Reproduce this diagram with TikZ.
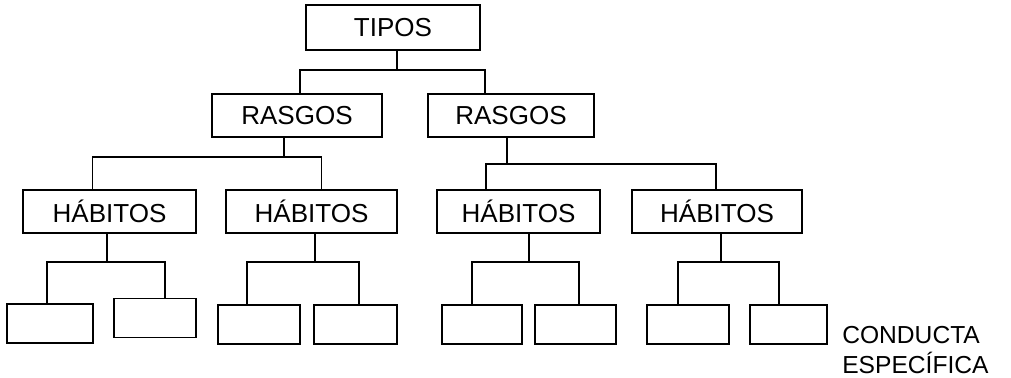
\documentclass[tikz,border=0pt]{standalone}
\usepackage{fontspec}
\setmainfont{Liberation Sans}
\usetikzlibrary{calc}
\tikzset{
	caja/.style={draw, line width=1.4pt, inner sep=0pt, minimum height=1.075cm, font=\fontsize{18.5}{22}\selectfont},
	hoja/.style={caja, minimum height=0.975cm},
	rama/.style={line width=1.4pt}
}

\begin{document}
\begin{tikzpicture}[x=0.025cm, y=-0.025cm, font=\fontsize{17.5}{21.5}\selectfont]
	\useasboundingbox (0,0) rectangle (1011,377);
	
	\node[caja, minimum width=4.35cm, minimum height=1.125cm] (tipos) at (393,27.5) {TIPOS};
	
	\node[caja, minimum width=4.25cm] (ras1) at (297,115.5) {RASGOS};
	\node[caja, minimum width=4.15cm] (ras2) at (511,115.5) {RASGOS};
	
	\node[caja, minimum width=4.325cm] (hab1) at (109.5,211.5) {HÁBITOS};
	\node[caja, minimum width=4.275cm] (hab2) at (311.5,211.5) {HÁBITOS};
	\node[caja, minimum width=4.075cm] (hab3) at (518.5,211.5) {HÁBITOS};
	\node[caja, minimum width=4.25cm] (hab4) at (717,211.5) {HÁBITOS};
	
	\node[hoja, minimum width=2.15cm] (c1) at (50,323.5) {};
	\node[hoja, minimum width=2.05cm] (c2) at (155,318) {};
	\node[hoja, minimum width=2.05cm] (c3) at (259,324.5) {};
	\node[hoja, minimum width=2.075cm] (c4) at (355.5,324.5) {};
	\node[hoja, minimum width=2.0cm] (c5) at (482,324.5) {};
	\node[hoja, minimum width=2.025cm] (c6) at (575.5,324.5) {};
	\node[hoja, minimum width=2.05cm] (c7) at (688,324.5) {};
	\node[hoja, minimum width=1.925cm] (c8) at (788.5,324.5) {};
	
	\node[anchor=west, align=left, inner sep=0pt] (conducta) at (842,350) {CONDUCTA\\ESPECÍFICA};
	
	% tipos -> rasgos
	\draw[rama] ($(tipos.south)+(4,0)$) -- ++(0,19) coordinate (t0);
	\draw[rama] ($(ras1.north)+(3,0)$) |- (t0) -| ($(ras2.north)+(-26,0)$);
	
	% rasgos -> habitos
	\draw[rama] ($(ras1.south)+(-13,0)$) -- ++(0,19) coordinate (r1);
	\draw[rama] ($(hab1.north)+(-17,0)$) |- (r1) -| ($(hab2.north)+(10,0)$);
	\draw[rama] ($(ras2.south)+(-4,0)$) -- ++(0,26) coordinate (r2);
	\draw[rama] ($(hab3.north)+(-32.5,0)$) |- (r2) -| ($(hab4.north)+(-1,0)$);
	
	% habitos -> conducta
	\draw[rama] ($(hab1.south)+(-2.5,0)$) -- ++(0,28) coordinate (h1);
	\draw[rama] ($(c1.north)+(-3,0)$) |- (h1) -| ($(c2.north)+(10,0)$);
	\draw[rama] ($(hab2.south)+(3.5,0)$) -- ++(0,28) coordinate (h2);
	\draw[rama] ($(c3.north)+(-12,0)$) |- (h2) -| ($(c4.north)+(3.5,0)$);
	\draw[rama] ($(hab3.south)+(10.5,0)$) -- ++(0,28) coordinate (h3);
	\draw[rama] ($(c5.north)+(-10,0)$) |- (h3) -| ($(c6.north)+(3.5,0)$);
	\draw[rama] ($(hab4.south)+(4,0)$) -- ++(0,28) coordinate (h4);
	\draw[rama] ($(c7.north)+(-10,0)$) |- (h4) -| ($(c8.north)+(-9.5,0)$);
\end{tikzpicture}
\end{document}
